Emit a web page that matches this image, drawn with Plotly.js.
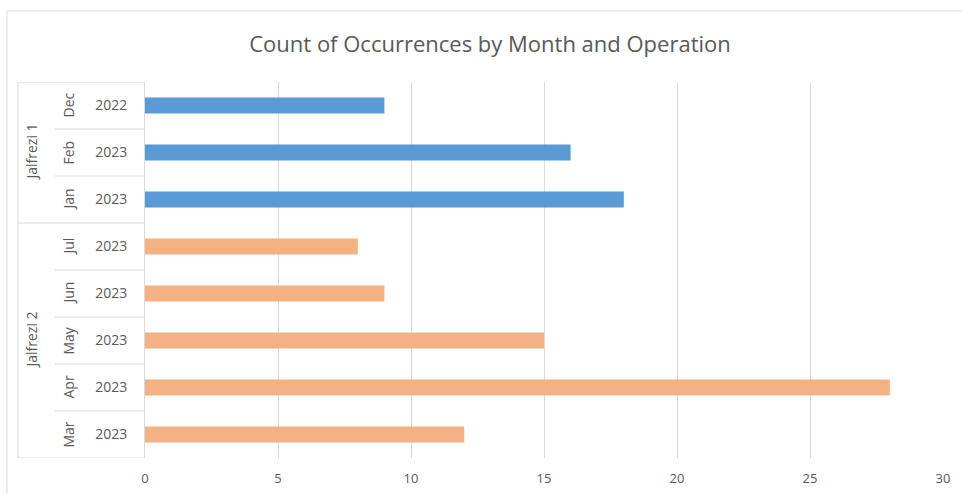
<!DOCTYPE html>
<html>
<head>
<meta charset="utf-8">
<script src="https://cdn.plot.ly/plotly-3.0.1.min.js"></script>
<style>
  html, body { margin: 0; padding: 0; background: #fff; }
  #chart { width: 962px; height: 494px; }
</style>
</head>
<body>
<div id="chart"></div>
<script>
// rows from top to bottom
const groups = ['Jalfrezi 1', 'Jalfrezi 2'];
const months1 = ['Dec', 'Feb', 'Jan'];
const years1 = ['2022', '2023', '2023'];
const counts1 = [9, 16, 18];
const months2 = ['Jul', 'Jun', 'May', 'Apr', 'Mar'];
const years2 = ['2023', '2023', '2023', '2023', '2023'];
const counts2 = [8, 9, 15, 28, 12];

const months = months1.concat(months2);
const years = years1.concat(years2);
const rows = months.map((m, i) => i);
const rows1 = rows.slice(0, months1.length);
const rows2 = rows.slice(months1.length);

const gridColor = '#d9d9d9';
const textColor = '#595959';
const font = 'Open Sans, Liberation Sans, sans-serif';

const traces = [
  {
    type: 'bar', orientation: 'h', name: groups[0],
    y: rows1, x: counts1, width: 0.34,
    marker: { color: '#5b9bd5' }, hoverinfo: 'x'
  },
  {
    type: 'bar', orientation: 'h', name: groups[1],
    y: rows2, x: counts2, width: 0.34,
    marker: { color: '#f4b183' }, hoverinfo: 'x'
  }
];

// paper x for pixel positions left of the plot (plot spans 145..943)
const px = p => (p - 145) / 798;

const annotations = [];
months.forEach((m, i) => {
  annotations.push({
    text: m, xref: 'paper', yref: 'y', x: px(68), y: i,
    xanchor: 'center', yanchor: 'middle',
    textangle: -90, showarrow: false,
    font: { family: font, size: 14, color: textColor }
  });
});
annotations.push({
  text: groups[0], xref: 'paper', yref: 'y', x: px(31),
  y: (rows1[0] + rows1[rows1.length - 1]) / 2,
  xanchor: 'center', yanchor: 'middle',
  textangle: -90, showarrow: false,
  font: { family: font, size: 14, color: textColor }
});
annotations.push({
  text: groups[1], xref: 'paper', yref: 'y', x: px(31),
  y: (rows2[0] + rows2[rows2.length - 1]) / 2,
  xanchor: 'center', yanchor: 'middle',
  textangle: -90, showarrow: false,
  font: { family: font, size: 14, color: textColor }
});

const line = { color: gridColor, width: 1 };
const shapes = [
  // outer chart border
  { type: 'rect', xref: 'paper', yref: 'paper', x0: px(7), x1: 1.2, y0: -0.3, y1: 1 + 71 / 376, line: line },
  // label box lines
  { type: 'line', xref: 'paper', yref: 'y', x0: px(18), x1: 0, y0: -0.5, y1: -0.5, line: line },
  { type: 'line', xref: 'paper', yref: 'y', x0: px(18), x1: 0, y0: rows1.length - 0.5, y1: rows1.length - 0.5, line: line },
  { type: 'line', xref: 'paper', yref: 'y', x0: px(18), x1: 0, y0: rows.length - 0.5, y1: rows.length - 0.5, line: line },
  { type: 'line', xref: 'paper', yref: 'y', x0: px(18), x1: px(18), y0: -0.5, y1: rows.length - 0.5, line: line }
];
rows.forEach(i => {
  if (i === 0 || i === rows1.length) return;
  shapes.push({ type: 'line', xref: 'paper', yref: 'y', x0: px(55), x1: 0, y0: i - 0.5, y1: i - 0.5, line: line });
});

const layout = {
  width: 962, height: 494,
  margin: { l: 145, r: 19, t: 82, b: 36 },
  paper_bgcolor: '#fff', plot_bgcolor: '#fff',
  showlegend: false,
  barmode: 'overlay',
  title: {
    text: 'Count of Occurrences by Month and Operation',
    xref: 'container', x: 490 / 962, xanchor: 'center',
    yref: 'container', y: 1 - 44 / 494, yanchor: 'middle',
    font: { family: font, size: 22, color: textColor }
  },
  xaxis: {
    range: [0, 30], dtick: 5, showgrid: true, gridcolor: gridColor,
    zeroline: false, showline: false, fixedrange: true,
    tickfont: { family: font, size: 13, color: textColor },
    ticks: '', ticklabelstandoff: 11
  },
  yaxis: {
    range: [rows.length - 0.5, -0.5],
    tickvals: rows, ticktext: years,
    showgrid: false, zeroline: false,
    showline: true, linecolor: gridColor, linewidth: 1,
    ticks: '', ticklabelstandoff: 14,
    tickfont: { family: font, size: 14, color: textColor }
  },
  annotations: annotations,
  shapes: shapes
};

Plotly.newPlot('chart', traces, layout, { displayModeBar: false, staticPlot: true });
</script>
</body>
</html>
